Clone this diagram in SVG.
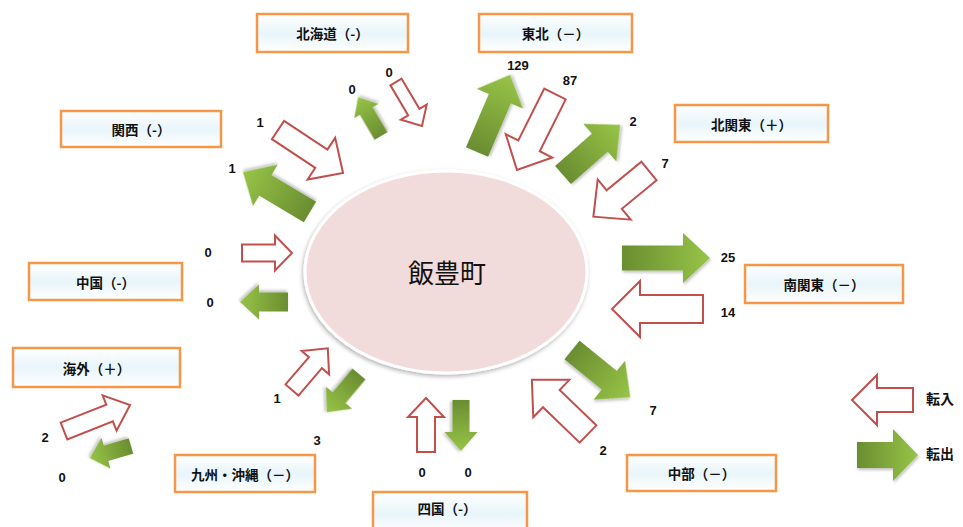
<svg xmlns="http://www.w3.org/2000/svg" width="963" height="527" viewBox="0 0 963 527">
<defs>
<linearGradient id="gGreen" x1="0" y1="0" x2="1" y2="0">
<stop offset="0" stop-color="#6a8d31"/>
<stop offset="1" stop-color="#97c447"/>
</linearGradient>
<linearGradient id="gBox" x1="0" y1="0" x2="0" y2="1">
<stop offset="0" stop-color="#ffffff"/>
<stop offset="0.5" stop-color="#e8f5fa"/>
<stop offset="1" stop-color="#ffffff"/>
</linearGradient>
<filter id="shadow" x="-20%" y="-20%" width="140%" height="140%">
<feDropShadow dx="1" dy="2" stdDeviation="1.5" flood-color="#000" flood-opacity="0.25"/>
</filter>
<filter id="eshadow" x="-10%" y="-10%" width="120%" height="120%">
<feDropShadow dx="-1" dy="2" stdDeviation="2" flood-color="#000" flood-opacity="0.3"/>
</filter>
</defs>
<style>
.box{fill:url(#gBox);stroke:#f79646;stroke-width:2.5}
.bt{font-family:"Noto Sans CJK JP","Noto Sans CJK SC",sans-serif;font-weight:bold;font-size:13.5px;fill:#111;text-anchor:middle;dominant-baseline:central}
.num{font-family:"Liberation Sans",Arial,sans-serif;font-weight:bold;font-size:13px;fill:#111;text-anchor:middle}
.in{fill:#ffffff;stroke:#c0504d;stroke-width:2;stroke-linejoin:miter}
.out{fill:url(#gGreen);filter:url(#shadow)}
.lg{font-family:"Noto Sans CJK JP","Noto Sans CJK SC",sans-serif;font-weight:bold;font-size:14px;fill:#111}
</style>
<rect width="963" height="527" fill="#ffffff"/>

<g id="center">
<ellipse cx="446" cy="272" rx="141" ry="101" fill="#f2dcdb" stroke="#ffffff" stroke-width="3" filter="url(#eshadow)"/>
<text x="447" y="271" font-family="'Noto Sans CJK JP','Noto Sans CJK SC',sans-serif" font-size="26" fill="#111" text-anchor="middle" dominant-baseline="central">飯豊町</text>
</g>

<g id="hokkaido"><rect class="box" x="257" y="14" width="151" height="38"/><text class="bt" x="332.5" y="33">北海道（-）</text></g>
<g id="tohoku"><rect class="box" x="479" y="14" width="153" height="38"/><text class="bt" x="555.5" y="33">東北（－）</text></g>
<g id="kansai"><rect class="box" x="61" y="111" width="160" height="36"/><text class="bt" x="141" y="129">関西（-）</text></g>
<g id="kitakanto"><rect class="box" x="675" y="105" width="153" height="37"/><text class="bt" x="751.5" y="123.5">北関東（＋）</text></g>
<g id="chugoku"><rect class="box" x="29" y="263" width="153" height="37"/><text class="bt" x="105.5" y="281.5">中国（-）</text></g>
<g id="kaigai"><rect class="box" x="13" y="348" width="167" height="39"/><text class="bt" x="96.5" y="367.5">海外（＋）</text></g>
<g id="kyushu"><rect class="box" x="175" y="455" width="140" height="37"/><text class="bt" x="245" y="473.5">九州・沖縄（－）</text></g>
<g id="shikoku"><rect class="box" x="373" y="492" width="154" height="42"/><text class="bt" x="447" y="508">四国（-）</text></g>
<g id="minamikanto"><rect class="box" x="745" y="265" width="158" height="38"/><text class="bt" x="824" y="284">南関東（－）</text></g>
<g id="chubu"><rect class="box" x="627" y="455" width="149" height="36"/><text class="bt" x="701.5" y="473">中部（－）</text></g>

<g id="connectors">
<g id="hokkaido-in"><polygon class="in" points="0,-6.5 35,-6.5 35,-15 51,0 35,15 35,6.5 0,6.5" transform="translate(396,82) rotate(59.4)"/><text class="num" x="389" y="77">0</text></g>
<g id="hokkaido-out"><polygon class="out" points="0,-7.5 29,-7.5 29,-14 45,0 29,14 29,7.5 0,7.5" transform="translate(381,136) rotate(-120.5)"/><text class="num" x="352" y="94">0</text></g>
<g id="kansai-in"><polygon class="in" points="0,-11 52,-11 52,-25 78,0 52,25 52,11 0,11" transform="translate(278,130) rotate(33.5)"/><text class="num" x="260" y="127">1</text></g>
<g id="kansai-out"><polygon class="out" points="0,-12 52,-12 52,-24 78,0 52,24 52,12 0,12" transform="translate(310,212) rotate(-149.2)"/><text class="num" x="232" y="173">1</text></g>
<g id="tohoku-out"><polygon class="out" points="0,-12 58,-12 58,-25 84,0 58,25 58,12 0,12" transform="translate(477,152) rotate(-66.8)"/><text class="num" x="518" y="70">129</text></g>
<g id="tohoku-in"><polygon class="in" points="0,-12 58,-12 58,-26 85,0 58,26 58,12 0,12" transform="translate(555,94) rotate(116.6)"/><text class="num" x="570" y="85">87</text></g>
<g id="kitakanto-out"><polygon class="out" points="0,-12 49,-12 49,-25 76,0 49,25 49,12 0,12" transform="translate(563,175) rotate(-41.3)"/><text class="num" x="633" y="126">2</text></g>
<g id="kitakanto-in"><polygon class="in" points="0,-12 45,-12 45,-26 72,0 45,26 45,12 0,12" transform="translate(649,171) rotate(140.6)"/><text class="num" x="665" y="168">7</text></g>
<g id="minamikanto-out"><polygon class="out" points="0,-12.5 61,-12.5 61,-25 88,0 61,25 61,12.5 0,12.5" transform="translate(622,258)"/><text class="num" x="728" y="262">25</text></g>
<g id="minamikanto-in"><polygon class="in" points="0,-14 63,-14 63,-28 91,0 63,28 63,14 0,14" transform="translate(703,309) rotate(180)"/><text class="num" x="728" y="317">14</text></g>
<g id="chubu-out"><polygon class="out" points="0,-12 48,-12 48,-25 75,0 48,25 48,12 0,12" transform="translate(572,350) rotate(39)"/><text class="num" x="653" y="415">7</text></g>
<g id="chubu-in"><polygon class="in" points="0,-12 51,-12 51,-26 78,0 51,26 51,12 0,12" transform="translate(588,434) rotate(-136)"/><text class="num" x="603" y="455">2</text></g>
<g id="shikoku-in"><polygon class="in" points="0,-9 35,-9 35,-18 54,0 35,18 35,9 0,9" transform="translate(426,452) rotate(-90)"/><text class="num" x="422" y="477">0</text></g>
<g id="shikoku-out"><polygon class="out" points="0,-8.5 32,-8.5 32,-16.5 51,0 32,16.5 32,8.5 0,8.5" transform="translate(461,400) rotate(90)"/><text class="num" x="468" y="477">0</text></g>
<g id="kyushu-in"><polygon class="in" points="0,-8.5 36,-8.5 36,-18 55,0 36,18 36,8.5 0,8.5" transform="translate(292,390) rotate(-49.4)"/><text class="num" x="277" y="403">1</text></g>
<g id="kyushu-out"><polygon class="out" points="0,-8.5 31,-8.5 31,-17 50,0 31,17 31,8.5 0,8.5" transform="translate(359,374) rotate(130)"/><text class="num" x="317" y="445">3</text></g>
<g id="chugoku-in"><polygon class="in" points="0,-8.5 33,-8.5 33,-17.5 50,0 33,17.5 33,8.5 0,8.5" transform="translate(242,253)"/><text class="num" x="208" y="257">0</text></g>
<g id="chugoku-out"><polygon class="out" points="0,-9.5 29,-9.5 29,-17.5 48,0 29,17.5 29,9.5 0,9.5" transform="translate(288,302) rotate(180)"/><text class="num" x="210" y="307">0</text></g>
<g id="kaigai-in"><polygon class="in" points="0,-9 49,-9 49,-19 71,0 49,19 49,9 0,9" transform="translate(64,431) rotate(-21.5)"/><text class="num" x="45" y="442">2</text></g>
<g id="kaigai-out"><polygon class="out" points="0,-8 26,-8 26,-16 43,0 26,16 26,8 0,8" transform="translate(131,446) rotate(163.7)"/><text class="num" x="62" y="482">0</text></g>
</g>

<g id="legend">
<polygon class="in" points="0,-12 36,-12 36,-25 61,0 36,25 36,12 0,12" transform="translate(913,400) rotate(180)"/>
<text class="lg" x="926" y="404">転入</text>
<polygon class="out" points="0,-13 36,-13 36,-26 61,0 36,26 36,13 0,13" transform="translate(857,455)"/>
<text class="lg" x="926" y="459">転出</text>
</g>
</svg>
